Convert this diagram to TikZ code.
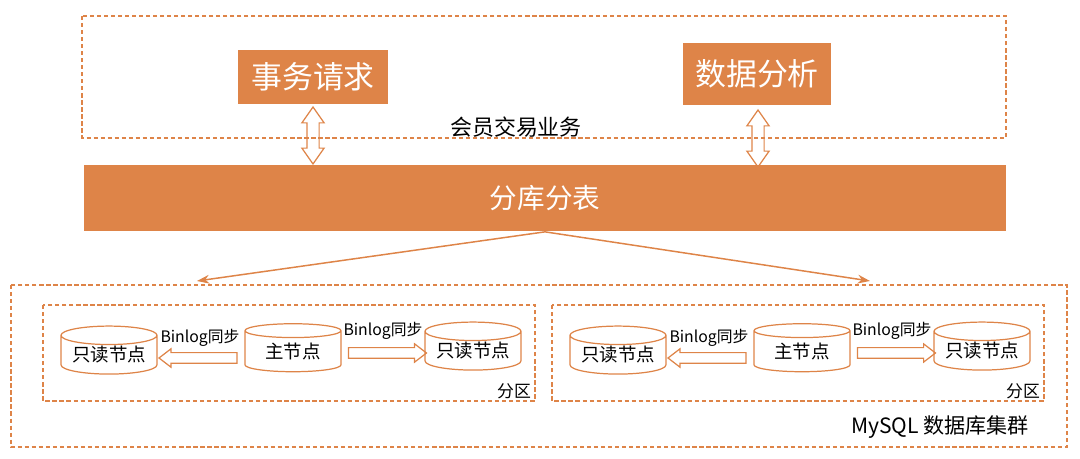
\documentclass[tikz,border=0pt]{standalone}
\usepackage{fontspec}
\newfontfamily\cjk{Noto Sans CJK SC}
\usetikzlibrary{shapes.geometric, shapes.arrows, arrows.meta, calc, positioning}
\definecolor{tborange}{RGB}{222,132,72}

\begin{document}
\begin{tikzpicture}[x=0.02cm, y=-0.02cm,
    solidbox/.style={fill=tborange, text=white, inner sep=0pt, font=\cjk\fontsize{17.6}{20}\selectfont},
    dashbox/.style={draw=tborange, line width=0.8pt, dash pattern=on 2.4pt off 1.6pt},
    dbnode/.style={cylinder, shape border rotate=90, aspect=0.25, draw=tborange, line width=0.7pt,
      minimum width=1.92cm, minimum height=0.96cm, inner sep=0pt, font=\cjk\fontsize{10.5}{12}\selectfont},
    syncarrow/.style={single arrow, draw=tborange, line width=0.7pt, inner sep=0.095cm,
      minimum height=1.56cm, single arrow head extend=0.075cm,
      single arrow tip angle=75},
    linkarrow/.style={double arrow, draw=tborange, line width=0.7pt, inner sep=0.11cm, shape border rotate=90,
      minimum height=1.14cm, double arrow head extend=0.1cm,
      double arrow tip angle=70},
    small/.style={font=\cjk\fontsize{9}{11}\selectfont}]
  \useasboundingbox (0,0) rectangle (1080,459);

  % business layer
  \draw[dashbox] (82,16) rectangle (1006,138);
  \node[solidbox, minimum width=3.02cm, minimum height=1.08cm] (req) at (313,77) {事务请求};
  \node[solidbox, minimum width=2.96cm, minimum height=1.24cm] (ana) at (757,74) {数据分析};
  \node[font=\cjk\fontsize{12.5}{14}\selectfont] (biz) at (516,127) {会员交易业务};

  % sharding bar
  \node[solidbox, minimum width=18.44cm, minimum height=1.34cm, font=\cjk\fontsize{15.7}{18}\selectfont] (shard) at (545,198) {分库分表};
  \node[linkarrow] (lnk1) at (313,135.5) {};
  \node[linkarrow] (lnk2) at (758,138.5) {};

  % cluster
  \draw[dashbox] (11,285) rectangle (1067,447);
  \coordinate (hit1) at (197,281);
  \coordinate (hit2) at (870,281);
  \draw[tborange, line width=0.85pt, -{Stealth[length=7pt, width=5pt]}] (shard.south) -- (hit1);
  \draw[tborange, line width=0.85pt, -{Stealth[length=7pt, width=5pt]}] (shard.south) -- (hit2);
  \node[font=\cjk\fontsize{12}{14}\selectfont] (mysql) at (940,427) {MySQL 数据库集群};

  % partitions
  \foreach \i/\dx in {1/0, 2/509}{
    \begin{scope}[xshift=\dx*0.02cm]
      \draw[dashbox] (43,305) rectangle (535,401);
      \node[dbnode] (ro\i a) at (109,355) {只读节点};
      \node[dbnode] (ms\i) at (293,351.5) {主节点};
      \node[dbnode] (ro\i b) at (473,351) {只读节点};
      \node[syncarrow, shape border rotate=180] (sl\i) at (201.5,358) {};
      \node[syncarrow] (sr\i) at (384,353) {};
      \node[small] at (200,338) {Binlog同步};
      \node[small] at (383,331) {Binlog同步};
      \node[font=\cjk\fontsize{9.6}{11}\selectfont] (part\i) at (514,391) {分区};
    \end{scope}
  }
\end{tikzpicture}
\end{document}
